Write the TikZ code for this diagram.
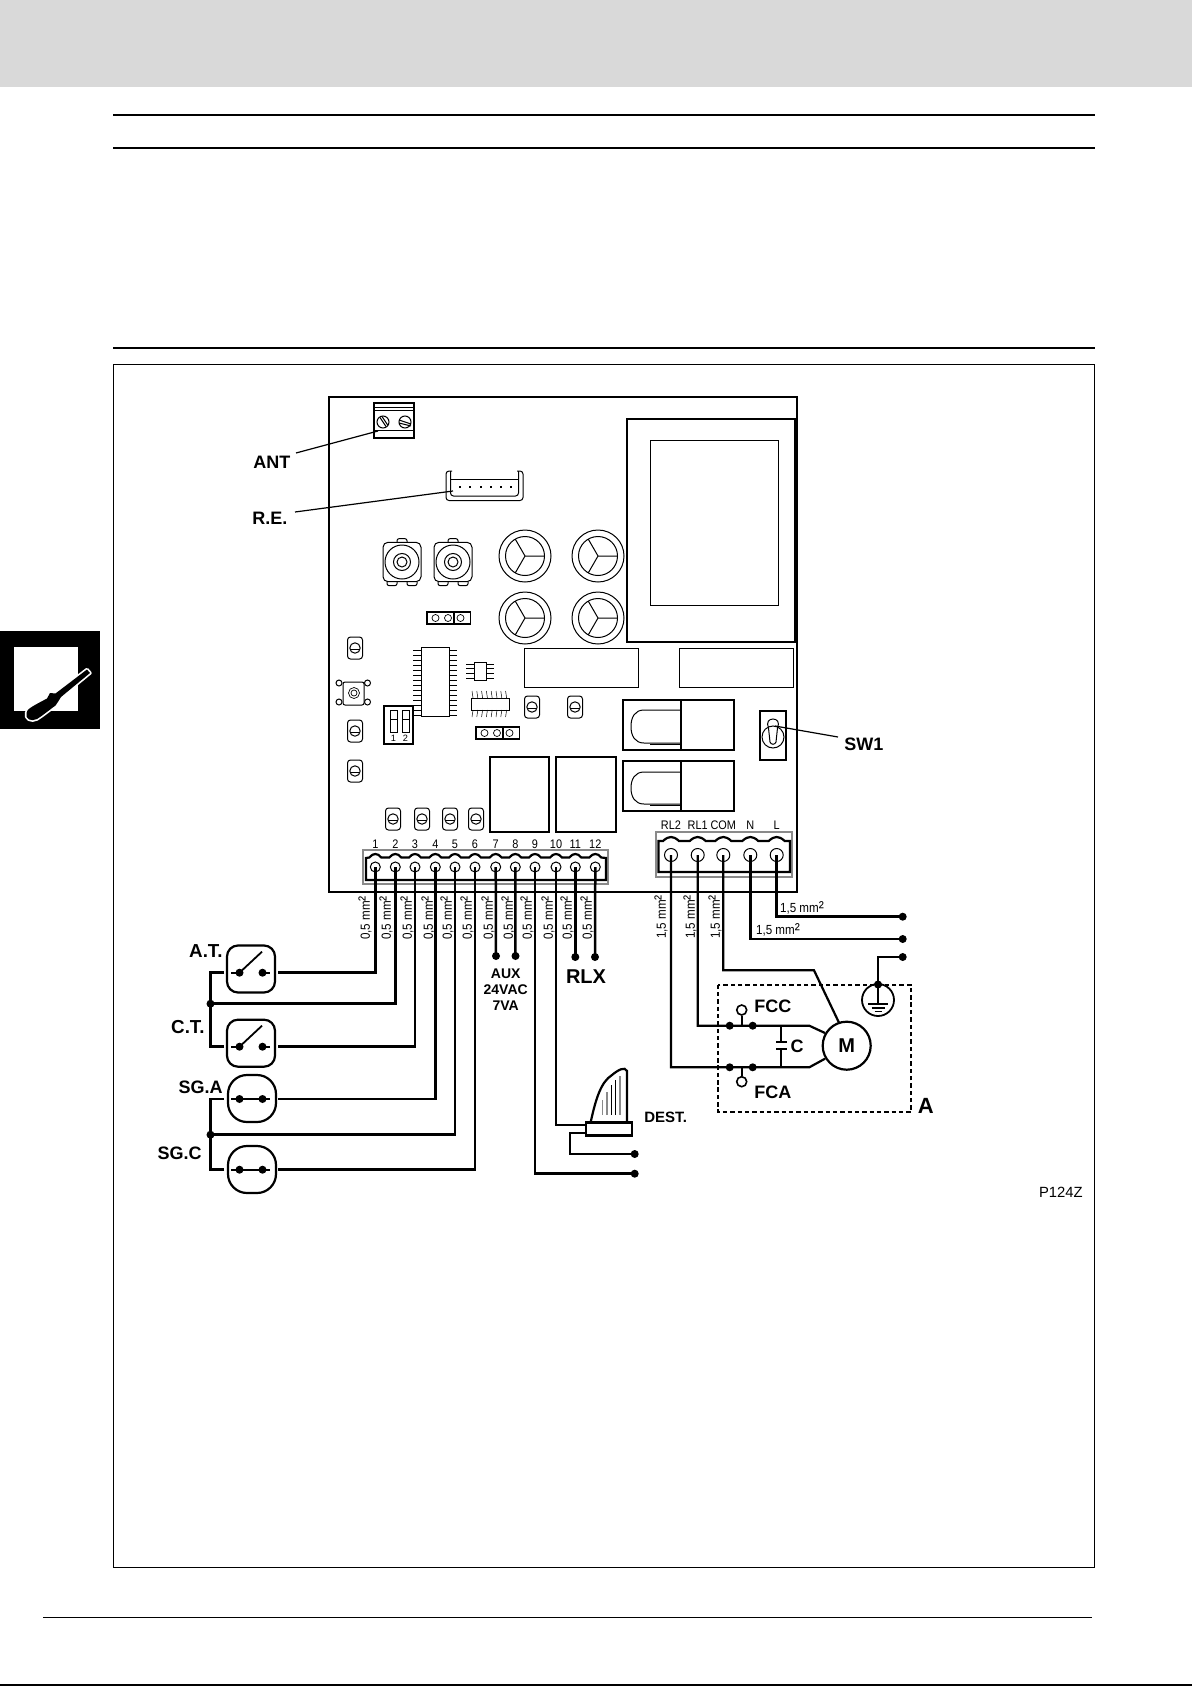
\documentclass[tikz,border=0pt]{standalone}
\usepackage{fontspec}
\setmainfont{Liberation Sans}
\newfontfamily\narrowf[FakeStretch=0.88]{Liberation Sans}
\definecolor{band}{HTML}{D9D9D9}
\definecolor{ltgray}{HTML}{8A8A8A}
\newcommand{\sqd}{{\fontsize{8.6}{8}\narrowf\raisebox{-0.35pt}{²}}}
\tikzset{
  thinl/.style={draw=black,line width=0.5pt},
  hair/.style={draw=black,line width=0.35pt},
  med/.style={draw=black,line width=1pt},
  wire/.style={draw=black,line width=1.25pt,line join=miter},
  rule/.style={draw=black,line width=1pt},
  dotn/.style={circle,fill=black,inner sep=0pt,minimum size=4pt},
  ring/.style={circle,draw=black,fill=white,line width=0.8pt,inner sep=0pt,minimum size=5pt},
  lab/.style={inner sep=0pt,font=\fontsize{9}{10}\selectfont\bfseries},
  wl/.style={inner sep=0pt,font=\fontsize{6.6}{7}\narrowf},
  tn/.style={inner sep=0pt,font=\fontsize{6.2}{7}\narrowf},
  aux/.style={inner sep=0pt,font=\fontsize{7}{8}\selectfont\bfseries},
}
\begin{document}
\begin{tikzpicture}[x=0.5pt,y=-0.5pt]
\useasboundingbox (0,0) rectangle (1192,1686);
% page furniture
\fill[band] (0,0) rectangle (1192,87);
\draw[rule] (113,115) -- (1095,115);
\draw[rule] (113,148) -- (1095,148);
\draw[rule] (113,348) -- (1095,348);
\draw[thinl] (113.5,364.5) rectangle (1094.5,1567.5);
\draw[thinl] (43,1617) -- (1092,1617);
\fill[black] (0,1684) rectangle (1192,1686);
% side tab
\fill[black] (0,631) rectangle (99.5,729);
\fill[white] (14,647) rectangle (78,711);
\def\drv{(87,669.5) -- (90,673) -- (61,697) -- (58.5,701) -- (55.5,705.5)
  .. controls (48,711) and (42,716) .. (37,719) .. controls (31,722) and (25,719) .. (26.5,713)
  .. controls (27,709) and (31,707) .. (47,698.5) -- (50,693) -- (55.5,693.5) -- cycle}
\draw[white,line width=1.7pt,line join=round] \drv;
\fill[black] \drv;
% board
\draw[med] (329,397) rectangle (797,892);
% ANT terminal
\draw[med] (374,403) rectangle (414,438);
\draw[thinl] (374,407) -- (414,407) (374,410) -- (414,410) (374,430) -- (414,430);
\draw[thinl] (383,422) circle (6) (405,422) circle (6);
\draw[thinl] (380,417.5) -- (386,426.5) (382,416.5) -- (388,425.5);
\draw[thinl] (399,420) -- (411,424) (399,423) -- (411,426);
% R.E. connector
\draw[thinl,rounded corners=1.5pt] (452,471) -- (446,471) -- (446,500.5) -- (523,500.5) -- (523,471) -- (517,471);
\draw[thinl,rounded corners=1.5pt] (450.5,471) -- (450.5,496) -- (518.5,496) -- (518.5,471);
\draw[thinl] (450.5,479.5) -- (518.5,479.5);
\foreach \x in {460,470.3,480.6,490.9,501.2,511}{\fill (\x-1,486) rectangle (\x+1,488);}
% trimmers
\foreach \x in {402,453}{
  \draw[thinl,rounded corners=1pt] (\x-5,542.3) -- (\x-5,538.7) -- (\x+5,538.7) -- (\x+5,542.3);
  \draw[thinl,rounded corners=1pt] (\x-15,581.7) -- (\x-15,585.6) -- (\x-5,585.6) -- (\x-5,581.7);
  \draw[thinl,rounded corners=1pt] (\x+5,581.7) -- (\x+5,585.6) -- (\x+15,585.6) -- (\x+15,581.7);
  \draw[thinl,rounded corners=2.5pt] (\x-19,542.3) rectangle (\x+19,581.7);
  \draw[thinl] (\x,562) circle (17) (\x,562) circle (8.5) (\x,562) circle (5);
}
% capacitors
\foreach \x/\y in {525/556,598/556,525/618,598/618}{
  \draw[thinl] (\x,\y) circle (26) (\x,\y) circle (19.5);
  \draw[thinl] (\x,\y) -- (\x+19.5,\y) (\x,\y) -- (\x-9.75,\y-16.9) (\x,\y) -- (\x-9.75,\y+16.9);
}
% transformer
\draw[thinl,line width=0.6pt] (627,419) rectangle (795,642);
\draw[thinl] (650,440) rectangle (778,605);
% plain blocks
\draw[thinl] (524,648) rectangle (638,687);
\draw[thinl] (679,648) rectangle (793,687);
\draw[thinl,line width=0.6pt] (490,757) rectangle (549,832);
\draw[thinl,line width=0.6pt] (556,757) rectangle (616,832);
% jumpers
\foreach \x/\y in {427/612,476/727}{
  \draw[thinl,line width=0.8pt] (\x,\y) rectangle (\x+43.5,\y+12);
  \draw[thinl,line width=0.8pt] (\x+27,\y) -- (\x+27,\y+12);
  \draw[hair] (\x+8.5,\y+6) circle (3.5) (\x+21,\y+6) circle (3.5) (\x+33.5,\y+6) circle (3.5);
}
% small caps
\foreach \x/\y in {355/648,355/731,355/771,532/707,575/707,393/819,422/819,450/819,476/819}{
  \draw[thinl,rounded corners=1.5pt] (\x-7.5,\y-11) rectangle (\x+7.5,\y+11);
  \draw[thinl] (\x,\y) circle (5.2);
  \draw[hair] (\x-5,\y+1) -- (\x+5,\y+1);
}
% push button
\foreach \x/\y in {339/683,339/702,367.5/683,367.5/702}{\draw[thinl] (\x,\y) circle (3);}
\draw[thinl,rounded corners=1pt,fill=white] (343,682) rectangle (364,705);
\draw[hair] (354,693) circle (5.5) (354,693) circle (3);
% DIP switch
\draw[med] (384,706) rectangle (413,744);
\foreach \x in {390.5,402.5}{
  \draw[hair] (\x,710) rectangle (\x+6.5,732);
  \draw[hair] (\x,719) -- (\x+6.5,719);
}
\node[inner sep=0pt,font=\fontsize{4.6}{5}\selectfont] (dip1) at (393.5,738.5) {1};
\node[inner sep=0pt,font=\fontsize{4.6}{5}\selectfont] (dip2) at (405.5,738.5) {2};
% ICs
\draw[thinl] (421,647) rectangle (449,716);
\foreach \i in {0,...,13}{\draw[draw=black,line width=0.25pt] (413,650+5*\i) -- (421,650+5*\i) (449,650+5*\i) -- (457,650+5*\i);}
\draw[thinl] (474,662) rectangle (486,680);
\foreach \i in {0,...,3}{\draw[draw=black,line width=0.25pt] (466,664+4.7*\i) -- (474,664+4.7*\i) (486,664+4.7*\i) -- (494,664+4.7*\i);}
\draw[thinl] (471,698) rectangle (509,710);
\foreach \i in {0,...,7}{\draw[draw=black,line width=0.25pt] (472+4.8*\i,691) -- (473+4.8*\i,698) (473+4.8*\i,710) -- (472+4.8*\i,717);}
% relays
\foreach \y/\a/\b in {700/710/743,761/772/804}{
  \draw[thinl,line width=0.7pt] (623,\y) rectangle (734,\y+50);
  \draw[thinl,line width=0.6pt] (681,\y) -- (681,\y+50);
  \draw[thinl] (681,\a) -- (644,\a) .. controls (635,\a) and (631,\a+7) .. (631,{(\a+\b)/2})
     .. controls (631,\b-7) and (635,\b) .. (644,\b) -- (681,\b);
  \draw[hair] (681,\b+1.8) -- (650,\b+1.8);
}
% SW1
\draw[med,line width=1.2pt] (760,711) rectangle (786,760);
\draw[thinl] (773,737) circle (11);
\draw[thinl] (770,742) -- (768.5,728) .. controls (766,722) and (769,719) .. (773,719) .. controls (777,719) and (780,722) .. (777.5,728) -- (776,742) .. controls (775,745) and (771,745) .. (770,742);
% terminal 12
\draw[thinl,draw=ltgray,line width=0.8pt] (363,850) rectangle (608,884);
\draw[med,line width=1.1pt] (366,880) -- (366,858)
  \foreach \x in {375.3,395.3,415,435.3,455,475,495.7,515.3,535,556,575.3,595.3}{
    -- (\x-6,857.5) .. controls (\x-4,855) and (\x-2,854) .. (\x,854) .. controls (\x+2,854) and (\x+4,855) .. (\x+6,857.5)
  } -- (606,858) -- (606,880) -- cycle;
% terminal 5
\draw[thinl,draw=ltgray,line width=0.8pt] (656,832) rectangle (792,877);
\draw[med,line width=1.1pt] (658.5,872) -- (658.5,841)
  \foreach \x in {671,697.7,723.3,750.3,776.7}{
    -- (\x-8,841) .. controls (\x-5,838) and (\x-2,837) .. (\x,837) .. controls (\x+2,837) and (\x+5,838) .. (\x+8,841)
  } -- (790,841) -- (790,872) -- cycle;
% screws and numbers
\foreach \n/\x in {1/375.3,2/395.3,3/415,4/435.3,5/455,6/475,7/495.7,8/515.3,9/535,10/556,11/575.3,12/595.3}{
  \node[circle,draw=black,line width=0.5pt,fill=white,inner sep=0pt,minimum size=5pt] (s\n) at (\x,867) {};
  \node[tn] (n\n) at (\x,844) {\n};
}
\foreach \n/\x/\t in {A/671/RL2,B/697.7/RL1,C/723.3/COM,D/750.3/N,E/776.7/L}{
  \node[circle,draw=black,line width=0.5pt,fill=white,inner sep=0pt,minimum size=6.5pt] (rs\n) at (\x,855) {};
  \node[tn] (rn\n) at (\x,825) {\t};
}
% leaders
\node[lab,anchor=west] (lant) at (253,462) {ANT};
\node[lab,anchor=west] (lre) at (252,518) {R.E.};
\node[lab,anchor=west] (lsw) at (844,744) {SW1};
\coordinate (antp) at (378,431);
\coordinate (rep) at (453,491);
\coordinate (swp) at (775,726);
\coordinate (ants) at (296,453);
\coordinate (res) at (295,512);
\coordinate (sws) at (838,737);
\draw[thinl,line width=0.6pt] (ants) -- (antp);
\draw[thinl,line width=0.6pt] (res) -- (rep);
\draw[thinl,line width=0.6pt] (sws) -- (swp);
% switch boxes
\tikzset{swbox/.style={draw=black,line width=1.1pt,rounded corners=5.5pt,minimum width=24pt,minimum height=23.5pt,inner sep=0pt,fill=white},
 sgbox/.style={swbox,rounded corners=9.5pt}}
\node[swbox] (at) at (251,969) {};
\node[swbox] (ct) at (251,1043.2) {};
\node[sgbox] (sa) at (252,1098.5) {};
\node[sgbox] (sc) at (252,1169.5) {};
\foreach \b/\y in {at/972.7,ct/1046.7,sa/1099,sc/1169.7}{
  \node[dotn] (\b l) at (239.5,\y) {};
  \node[dotn] (\b r) at (262.5,\y) {};
  \coordinate (\b L) at (224,\y);
  \coordinate (\b R) at (278,\y);
  \coordinate (\b i) at (231,\y);
  \coordinate (\b j) at (270,\y);
}
\draw[line width=0.9pt] (ati) -- (atl.center) (atr.center) -- (atj);
\draw[line width=0.9pt] (cti) -- (ctl.center) (ctr.center) -- (ctj);
\draw[line width=0.9pt] (sai) -- (saj);
\draw[line width=0.9pt] (sci) -- (scj);
\draw[line width=0.9pt] (atl.center) -- (262,951.7);
\draw[line width=0.9pt] (ctl.center) -- (262,1025.7);
% low voltage wiring
\node[dotn] (j1) at (210.5,1003.7) {};
\node[dotn] (j2) at (210.5,1134.7) {};
\draw[wire] (s1.center) |- (atR);
\draw[wire] (s2.center) |- (j1.center);
\draw[wire] (s3.center) |- (ctR);
\draw[wire] (s4.center) |- (saR);
\draw[wire] (s5.center) |- (j2.center);
\draw[wire] (s6.center) |- (scR);
\draw[wire] (atL) -| (j1.center) (ctL) -| (j1.center);
\draw[wire] (saL) -| (j2.center) (scL) -| (j2.center);
\node[dotn] (d7) at (496,956) {};
\node[dotn] (d8) at (515.5,956) {};
\node[dotn] (d11) at (575.3,957) {};
\node[dotn] (d12) at (595,957) {};
\draw[wire] (s7.center) -- (d7.center);
\draw[wire] (s8.center) -- (d8.center);
\draw[wire] (s11.center) -- (d11.center);
\draw[wire] (s12.center) -- (d12.center);
% flasher
\node[draw=black,line width=1.3pt,minimum width=23pt,minimum height=6.5pt,inner sep=0pt,fill=white] (fl) at (609,1128.8) {};
\draw[line width=1.1pt] (590.7,1122) .. controls (596,1098) and (601,1082) .. (612,1075) .. controls (618,1070) and (625,1066) .. (627,1071) -- (627,1122);
\draw[draw=ltgray,line width=0.6pt] (602.7,1100) -- (602.7,1115) (607,1092) -- (607,1115) (620,1076) -- (620,1115);
\draw[line width=0.6pt] (611.3,1085) -- (611.3,1115) (615.7,1080) -- (615.7,1115);
\coordinate (fa) at (586,1125);
\coordinate (fb) at (586,1133);
\coordinate (fc) at (569.7,1154);
\node[dotn] (e1) at (634.7,1154) {};
\node[dotn] (e2) at (634.7,1173.7) {};
\draw[wire] (s10.center) |- (fa);
\draw[wire,line width=1pt] (fb) -| (fc) -- (e1.center);
\draw[wire] (s9.center) |- (e2.center);
% mains wiring
\node[dotn] (pL) at (902.7,916.7) {};
\node[dotn] (pN) at (902.7,939) {};
\node[dotn] (pE) at (902.7,957) {};
\draw[wire] (rsE.center) |- (pL.center);
\draw[wire] (rsD.center) |- (pN.center);
\node[dotn] (ed) at (878,984.5) {};
\draw[wire] (pE.center) -| (ed.center);
% dashed box
\draw[line width=1pt,dash pattern=on 2.2pt off 1.47pt] (718.3,984.7) rectangle (911,1112.3);
% earth
\node[circle,draw=black,line width=0.9pt,inner sep=0pt,minimum size=16pt] (earth) at (878,1000) {};
\draw[line width=0.9pt] (ed.center) -- (878,1004);
\draw[line width=0.9pt] (868,1004) -- (888,1004);
\draw[line width=0.9pt] (871.5,1007.8) -- (884.5,1007.8);
\draw[line width=0.9pt] (874.5,1011.5) -- (881.5,1011.5);
% motor
\node[circle,draw=black,line width=1.1pt,inner sep=0pt,minimum size=24pt,font=\fontsize{10}{11}\selectfont\bfseries] (motor) at (846.7,1045.7) {M};
\coordinate (k1) at (809.3,1025.7);
\coordinate (k2) at (809.3,1067.3);
\coordinate (k3) at (814,970.3);
\draw[wire,line width=1.1pt] (rsC.center) |- (k3) -- (839,1022.7);
\draw[wire,line width=1.1pt] (rsB.center) |- (k1) -- (825,1033);
\draw[wire,line width=1.1pt] (rsA.center) |- (k2) -- (825,1058.7);
\foreach \n/\x in {a/729.7,b/752.7}{
  \node[dotn] (fcc\n) at (\x,1025.7) {};
  \node[dotn] (fca\n) at (\x,1067.3) {};
}
\node[ring] (rcc) at (741.7,1010) {};
\node[ring] (rca) at (741.7,1081.7) {};
\coordinate (rcu) at (741.7,1025.7);
\coordinate (rcd) at (741.7,1067.3);
\draw[line width=1pt] (rcc) -- (rcu);
\draw[line width=1pt] (rca) -- (rcd);
% capacitor C
\coordinate (cu) at (781,1025.7);
\coordinate (cd) at (781,1067.3);
\draw[line width=1pt] (cu) -- (781,1041.7) (776,1041.7) -- (786.7,1041.7);
\draw[line width=1pt] (cd) -- (781,1049.3) (776,1049.3) -- (786.7,1049.3);
% labels
\node[lab,anchor=west] (fcc) at (754,1006.7) {FCC};
\node[lab,anchor=west] (fca) at (754,1092) {FCA};
\node[lab] (cl) at (797,1046) {C};
\node[lab,font=\fontsize{11}{12}\selectfont\bfseries] (al) at (925.7,1106) {A};
\node[lab,anchor=west,font=\fontsize{7.5}{8}\selectfont\bfseries] (dest) at (644,1117) {DEST.};
\node[lab,anchor=east,font=\fontsize{9.4}{10}\selectfont\bfseries] (lat) at (223,951) {A.T.};
\node[lab,anchor=east,font=\fontsize{9.4}{10}\selectfont\bfseries] (lct) at (205,1027) {C.T.};
\node[lab,anchor=east] (lsa) at (223,1087) {SG.A};
\node[lab,anchor=east] (lsc) at (202,1153) {SG.C};
\node[lab,font=\fontsize{10}{11}\selectfont\bfseries] (rlx) at (586,977) {RLX};
\node[aux] (aux1) at (505.7,974) {AUX};
\node[aux] (aux2) at (505.7,990) {24VAC};
\node[aux] (aux3) at (505.7,1006) {7VA};
\node[inner sep=0pt,anchor=east,font=\fontsize{7.4}{8}\selectfont] (pz) at (1083,1192) {P124Z};
% wire gauge labels
\foreach \i/\x in {1/365,2/386,3/407,4/428,5/447,6/467,7/488,8/508,9/527,10/548,11/567,12/587}{
  \node[wl,rotate=90] (g\i) at (\x,918) {0,5 mm\sqd};
}
\foreach \i/\x in {a/661,b/690,c/715}{
  \node[wl,rotate=90] (h\i) at (\x,917) {1,5 mm\sqd};
}
\node[wl] (hL) at (802,908) {1,5 mm\sqd};
\node[wl] (hN) at (778,930) {1,5 mm\sqd};
\end{tikzpicture}
\end{document}
